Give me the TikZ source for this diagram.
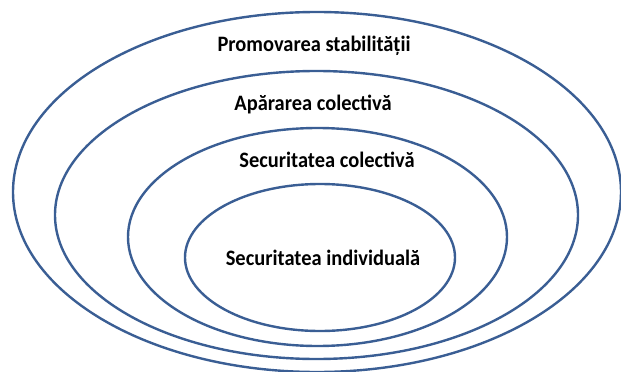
\documentclass[tikz,border=0pt]{standalone}
\usepackage{fontspec}
\setmainfont{Carlito}
\usetikzlibrary{shapes.geometric}
\definecolor{ringblue}{RGB}{58,94,148}
\newcommand{\lbltext}[1]{\scalebox{0.93}[1]{#1}}
\tikzset{
  ring/.style={ellipse, draw=ringblue, line width=2.4pt, inner sep=0pt},
  lbl/.style={font=\fontsize{22}{26}\selectfont\bfseries, anchor=base, inner sep=0pt}
}
\begin{document}
\begin{tikzpicture}[x=1pt,y=-1pt]
\useasboundingbox (0,0) rectangle (621,372);
\node[ring, minimum width=608pt, minimum height=360pt] (outer) at (317,192) {};
\node[ring, minimum width=523pt, minimum height=288pt] (second) at (316.5,215) {};
\node[ring, minimum width=379pt, minimum height=218pt] (third) at (317.5,237) {};
\node[ring, minimum width=270pt, minimum height=147pt] (inner) at (320,257.5) {};
\node[lbl] (t1) at (314,51) {\lbltext{Promovarea stabilității}};
\node[lbl] (t2) at (313,110) {\lbltext{Apărarea colectivă}};
\node[lbl] (t3) at (327,167) {\lbltext{Securitatea colectivă}};
\node[lbl] (t4) at (323,265) {\lbltext{Securitatea individuală}};
\end{tikzpicture}
\end{document}
